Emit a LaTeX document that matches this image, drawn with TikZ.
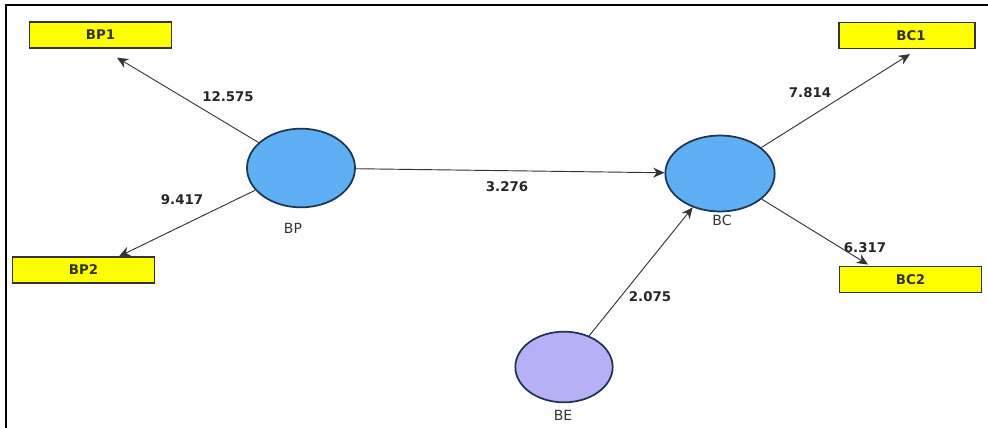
\documentclass[tikz,border=0pt]{standalone}
\usepackage{fontspec}
\setsansfont{DejaVu Sans}
\usepackage{tikz}
\usetikzlibrary{arrows.meta, positioning, calc, shapes.geometric}
\definecolor{itemyellow}{HTML}{FFFF00}
\definecolor{latentblue}{HTML}{5DAEF2}
\definecolor{latentpurple}{HTML}{B6B0F6}
\definecolor{rimnavy}{HTML}{1E3550}
\tikzset{
    itembox/.style={rectangle, draw=black!80, fill=itemyellow, line width=0.9pt, minimum width=106pt, minimum height=19.5pt, font=\sffamily\bfseries\fontsize{10}{12}\selectfont, text=black!80},
    latent/.style={ellipse, draw=rimnavy, line width=1.3pt, minimum width=81pt, minimum height=59pt},
    bluelatent/.style={latent, fill=latentblue},
    purplelatent/.style={latent, fill=latentpurple},
    latentname/.style={font=\sffamily\fontsize{10.5}{12}\selectfont, text=black!80},
    weight/.style={font=\sffamily\bfseries\fontsize{10}{12}\selectfont, text=black!85},
    arrow/.style={-{Stealth[length=8.5pt, width=7.5pt]}, line width=0.7pt, draw=black!80}
}
\begin{document}
\begin{tikzpicture}[x=0.75pt, y=-0.75pt]
        \useasboundingbox (0,0) rectangle (988,428);
        \draw[line width=1.6pt] (6,428) -- (6,5) -- (988,5);

        % latent variables
        \node[bluelatent] (bp) at (301,168) {};
        \node[bluelatent, minimum width=82pt, minimum height=57pt] (bc) at (720,173.5) {};
        \node[purplelatent, minimum width=73pt, minimum height=53pt] (be) at (564,367) {};
        \node[latentname] (bpname) at (293,228) {BP};
        \node[latentname] (bcname) at (722,220) {BC};
        \node[latentname] (bename) at (563,415) {BE};

        % indicators
        \node[itembox, minimum width=107pt] (bp1) at (100.5,35) {BP1};
        \node[itembox] (bp2) at (83.5,270) {BP2};
        \node[itembox, minimum width=102pt] (bc1) at (907,35.5) {\hspace*{6pt}BC1};
        \node[itembox, minimum width=107pt, minimum height=20pt] (bc2) at (910.5,279.5) {BC2};

        \draw[arrow] (bp) -- ($(bp1.south)+(16.5,9)$);
        \draw[arrow] (bp) -- ($(bp2.north)+(35.5,0)$);
        \draw[arrow] (bp) -- (bc);
        \draw[arrow] (bc) -- ($(bc1.south)+(3,5)$);
        \draw[arrow] (bc) -- ($(bc2.north)+(-42.5,-1)$);
        \draw[arrow] (be) -- (bc);

        \node[weight] (w1) at (228,97) {12.575};
        \node[weight] (w2) at (182,200) {9.417};
        \node[weight] (w3) at (507,187) {3.276};
        \node[weight] (w4) at (810,93) {7.814};
        \node[weight] (w5) at (865,248) {6.317};
        \node[weight] (w6) at (650,297) {2.075};
    \end{tikzpicture}
\end{document}
